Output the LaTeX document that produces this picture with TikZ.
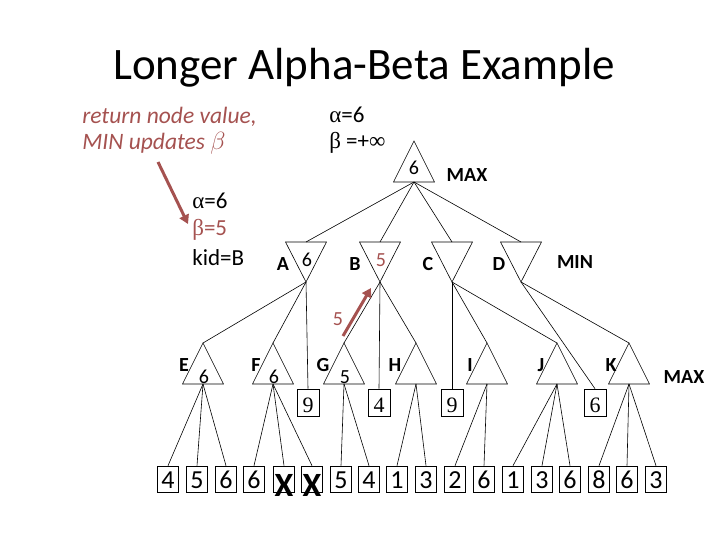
\documentclass[tikz,border=0pt]{standalone}
\usepackage{fontspec}
\setmainfont{Carlito}
\newfontfamily\symfont{Liberation Serif}
\usepackage{tikz}
\usetikzlibrary{arrows.meta, positioning, calc}
\definecolor{brn}{RGB}{165,82,80}

% MAX node: triangle pointing up, apex at (#2,#3)
\newcommand{\maxtri}[3]{%
  \draw (#2-20.5,#3+41) -- (#2,#3) -- (#2+20.5,#3+41) -- cycle;
  \coordinate (#1-t) at (#2,#3);
  \coordinate (#1-b) at (#2,#3+41);}
% MIN node: triangle pointing down, top side at y=#3
\newcommand{\mintri}[3]{%
  \draw (#2-20.5,#3) -- (#2,#3+40) -- (#2+20.5,#3) -- cycle;
  \coordinate (#1-t) at (#2,#3);
  \coordinate (#1-b) at (#2,#3+40);}

\begin{document}
\begin{tikzpicture}[x=1pt, y=-1pt, line width=0.6pt,
    lbl/.style={font=\fontsize{20}{20}\selectfont\bfseries, inner sep=0pt},
    val/.style={font=\fontsize{20}{20}\selectfont, inner sep=0pt},
    txt/.style={font=\fontsize{23}{23}\selectfont, inner sep=0pt, anchor=west},
    leaf/.style={draw, minimum width=21pt, minimum height=26pt, inner sep=0pt,
      text height=19pt, text depth=1pt, font=\fontsize{26}{26}\selectfont},
    midbox/.style={draw, minimum width=22pt, minimum height=27pt, inner sep=0pt,
      text height=19pt, text depth=0pt, font=\fontsize{22}{22}\symfont},
    redarrow/.style={draw=brn, line width=3pt, -{Triangle[length=9pt, width=10pt]}}]
    \useasboundingbox (0,0) rectangle (720,540);

    \node[font=\fontsize{45}{45}\selectfont] (title) at (364,68) {Longer Alpha-Beta Example};

    % notes
    \node[txt, text=brn, font=\fontsize{23.5}{23.5}\itshape] (note1) at (82,117) {return node value,};
    \node[txt, text=brn, font=\fontsize{23.5}{23.5}\itshape] (note2) at (82,143) {MIN updates $\beta$};
    \node[txt] (alpha0) at (329,115) {{\symfont α}=6};
    \node[txt] (beta0) at (329,143) {{\symfont β} =+{\symfont ∞}};
    \node[txt] (alphaA) at (192,201) {{\symfont α}=6};
    \node[txt, text=brn] (betaA) at (192,230) {{\symfont β}=5};
    \node[txt] (kidA) at (192,258) {kid=B};

    % tree
    \maxtri{root}{414}{141}
    \mintri{A}{306}{242}
    \mintri{B}{380}{242}
    \mintri{C}{452}{242}
    \mintri{D}{521}{242}
    \maxtri{E}{203}{343}
    \maxtri{F}{273}{343}
    \maxtri{G}{344}{343}
    \maxtri{H}{416}{343}
    \maxtri{I}{487}{343}
    \maxtri{J}{557}{343}
    \maxtri{K}{629}{343}

    \node[val] (rootv) at (414,168) {6};
    \node[lbl] (maxtop) at (467,175) {MAX};
    \node[lbl] (Alab) at (283,264) {A};
    \node[lbl] (Blab) at (355,264) {B};
    \node[lbl] (Clab) at (428,264) {C};
    \node[lbl] (Dlab) at (499,264) {D};
    \node[val] (Av) at (307,260) {6};
    \node[val, text=brn] (Bv) at (381,260) {5};
    \node[lbl] (minlab) at (575,262) {MIN};
    \foreach \n/\x in {E/184,F/256,G/323,H/395,I/470,J/541,K/611}
        \node[lbl] (\n lab) at (\x,365) {\n};
    \node[val] (Ev) at (204,377) {6};
    \node[val] (Fv) at (274,377) {6};
    \node[val] (Gv) at (345,377) {5};
    \node[lbl] (maxbot) at (684,377) {MAX};

    \node[midbox] (m1) at (308,402.5) {9};
    \node[midbox] (m2) at (379,402.5) {4};
    \node[midbox] (m3) at (452,402.5) {9};
    \node[midbox] (m4) at (595,402.5) {6};

    \foreach \i/\x/\v in {1/168/4,2/197/5,3/226/6,4/254/6,5/284/{},6/312/{},
        7/341/5,8/369/4,9/397/1,10/426/3,11/455/2,12/484/6,13/513/1,
        14/542/3,15/570/6,16/599/8,17/627/6,18/656/3}
        \node[leaf] (l\i) at (\x,479) {\v};
    \node[font=\fontsize{34}{34}\selectfont\bfseries] (x1) at (284,485) {X};
    \node[font=\fontsize{34}{34}\selectfont\bfseries] (x2) at (312,485) {X};

    % edges
    \foreach \c in {A,B,C,D}
        \draw (root-b) -- (\c-t);
    \draw (A-b) -- (E-t);
    \draw (A-b) -- (F-t);
    \draw (A-b) -- (m1.north);
    \draw (B-b) -- (G-t);
    \draw (B-b) -- (m2.north);
    \draw (B-b) -- (H-t);
    \draw (C-b) -- (m3.north);
    \draw (C-b) -- (I-t);
    \draw (C-b) -- (J-t);
    \draw (D-b) -- (m4.north);
    \draw (D-b) -- (K-t);
    \foreach \p/\c in {E/1,E/2,E/3,F/4,F/5,F/6,G/7,G/8,H/9,H/10,I/11,I/12,
        J/13,J/14,J/15,K/16,K/17,K/18}
        \draw (\p-b) -- (l\c.north);

    % red arrows
    \coordinate (a1s) at (158,162);
    \coordinate (a1e) at (188,224);
    \draw[redarrow] (a1s) -- (a1e);
    \coordinate (a2s) at (343,336);
    \coordinate (a2e) at (371,288);
    \draw[redarrow] (a2s) -- (a2e);
    \node[val, text=brn] (ret5) at (338,319) {5};
\end{tikzpicture}
\end{document}
